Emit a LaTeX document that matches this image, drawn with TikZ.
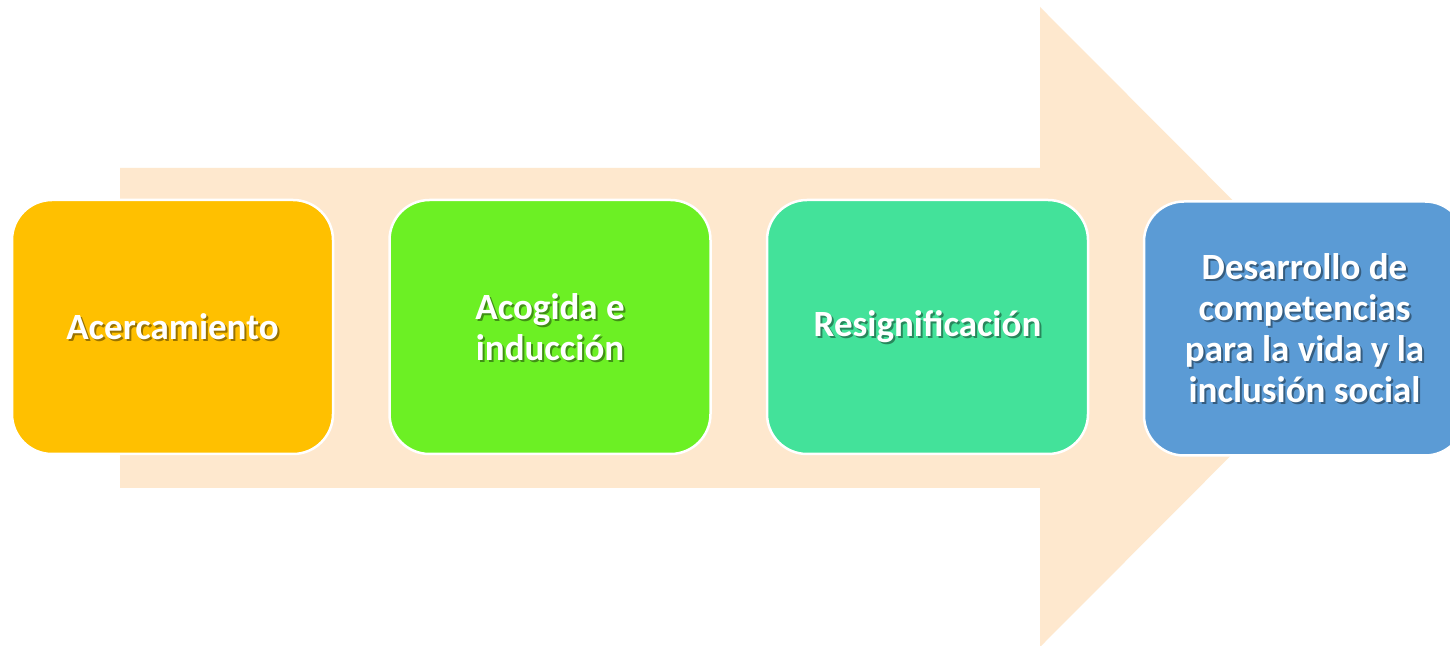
\documentclass[tikz,border=0pt]{standalone}
\usepackage{fontspec}
\setmainfont{Carlito}
\definecolor{arrowfill}{HTML}{FEE8CE}
\definecolor{cA}{HTML}{FFC000}
\definecolor{cB}{HTML}{6CF024}
\definecolor{cC}{HTML}{43E29A}
\definecolor{cD}{HTML}{5B9BD5}
\begin{document}
\begin{tikzpicture}[x=1pt,y=1pt,
  stepbox/.style={draw=white, line width=2.5pt, rounded corners=40pt,
    minimum width=321pt, minimum height=254pt, inner sep=0pt},
  lblfont/.style={font=\fontsize{37}{41}\selectfont\bfseries, align=center},
  lbl/.style={lblfont, text=white},
  shd/.style={lblfont, text=black, text opacity=0.4}]
\clip (0,0) rectangle (1450,645);
\fill[white] (0,0) rectangle (1450,645);
% big arrow
\fill[arrowfill] (120,477) -- (1040,477) -- (1040,638) -- (1359,318)
  -- (1040,-2) -- (1040,157) -- (120,157) -- cycle;
% boxes
\node[stepbox, fill=cA] (b1) at (172.5,318) {};
\node[stepbox, fill=cB] (b2) at (550,318) {};
\node[stepbox, fill=cC] (b3) at (927.5,318) {};
\node[stepbox, fill=cD] (b4) at (1304.5,316.5) {};
% label shadows
\node[shd] (s1) at ([shift={(2,-2)}]b1.center) {Acercamiento};
\node[shd] (s2) at ([shift={(2,-2)}]b2.center) {Acogida e\\inducción};
\node[shd] (s3) at ([shift={(2,-2)}]b3.center) {Resignificación};
\node[shd] (s4) at ([shift={(2,-2)}]b4.center) {Desarrollo de\\competencias\\para la vida y la\\inclusión social};
% labels
\node[lbl] (t1) at (b1.center) {Acercamiento};
\node[lbl] (t2) at (b2.center) {Acogida e\\inducción};
\node[lbl] (t3) at (b3.center) {Resignificación};
\node[lbl] (t4) at (b4.center) {Desarrollo de\\competencias\\para la vida y la\\inclusión social};
\end{tikzpicture}
\end{document}
